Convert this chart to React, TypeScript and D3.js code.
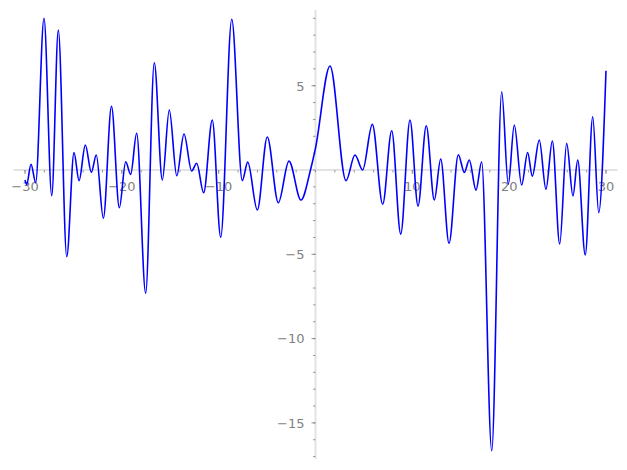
import React from "react";
import * as d3 from "d3";

const W = 627;
const H = 470;

// curve samples (extrema and a few intermediate points)
const xs = [
  -30.0, -29.83, -29.38, -28.9, -28.04, -27.24, -26.56, -25.69, -24.94, -24.42,
  -23.77, -23.15, -22.64, -21.91, -21.07, -20.26, -19.6, -19.09, -18.47, -17.54,
  -16.65, -15.82, -15.1, -14.33, -13.58, -12.79, -12.27, -11.55, -10.66, -9.79,
  -8.65, -7.56, -7.0, -6.01, -4.98, -3.84, -2.74, -1.5, -0.52, 0.0,
  1.5, 3.15, 4.08, 4.87, 5.87, 6.94, 7.87, 8.8, 9.76,
  10.59, 11.44, 12.27, 12.93, 13.79, 14.75, 15.37, 15.88, 16.58, 17.16,
  18.2, 19.23, 19.91, 20.53, 21.29, 21.91, 22.39, 23.11, 23.8, 24.46,
  25.22, 25.94, 26.59, 27.08, 27.86, 28.63, 29.25, 30.0,
];
const ys = [
  -0.59, -0.85, 0.34, -0.75, 9.0, -1.52, 8.3, -5.14, 1.03, -0.63,
  1.48, -0.14, 0.89, -2.86, 3.78, -2.24, 0.49, -0.26, 2.18, -7.31,
  6.36, -0.59, 3.56, -0.34, 2.14, -0.06, 0.4, -1.35, 2.97, -3.99,
  8.94, -0.63, 0.47, -2.37, 1.96, -1.94, 0.53, -1.78, 0.0, 1.3,
  6.17, -0.63, 0.89, 0.0, 2.71, -2.03, 2.33, -3.8, 2.97,
  -2.14, 2.63, -1.78, 0.65, -4.35, 0.91, -0.14, 0.59, -1.19, 0.49,
  -16.65, 4.64, -0.85, 2.67, -0.89, 1.04, -0.36, 1.78, -1.14, 1.72,
  -4.39, 1.58, -1.54, 0.59, -5.04, 3.16, -2.53, 5.89,
];

const xMajor = [-30, -20, -10, 10, 20, 30];
const xMajorLabels = ["\u221230", "\u221220", "\u221210", "10", "20", "30"];
const xMinor = d3.range(-30, 31, 2);
const yMajor = [5, -5, -10, -15];
const yMajorLabels = ["5", "\u22125", "\u221210", "\u221215"];
const yMinor = d3.range(-17, 10, 1);

export default function App() {
  const x = d3.scaleLinear().domain([-31.2, 31.2]).range([13.4, 617.6]);
  const y = d3.scaleLinear().domain([-17.16, 9.51]).range([459.3, 9.7]);
  const pts: [number, number][] = xs.map((v, i) => [v, ys[i]]);
  const line = d3
    .line<[number, number]>()
    .x((d) => x(d[0]))
    .y((d) => y(d[1]))
    .curve(d3.curveMonotoneX);

  const x0 = x(0);
  const y0 = y(0);
  const font = "DejaVu Sans, sans-serif";
  const tickColor = "#7f7f7f";
  const labelColor = "#808080";
  const axisColor = "#e3e3e3";

  return (
    <svg
      width={W}
      height={H}
      style={{ position: "absolute", left: 0, top: 0, background: "#fff" }}
    >
      <line x1={x(-31.2)} x2={x(31.2)} y1={y0} y2={y0} stroke={axisColor} strokeWidth={2} />
      <line x1={x0} x2={x0} y1={y(9.51)} y2={y(-17.16)} stroke={axisColor} strokeWidth={2} />
      {xMinor.map((t) => (
        <line key={"xm" + t} x1={x(t)} x2={x(t)} y1={y0} y2={y0 + 2.5} stroke={tickColor} strokeWidth={0.8} />
      ))}
      {xMajor.map((t, i) => (
        <g key={"xM" + t}>
          <line x1={x(t)} x2={x(t)} y1={y0} y2={y0 + 4} stroke={tickColor} strokeWidth={0.8} />
          <text
            x={x(t)}
            y={y0 + 21}
            textAnchor="middle"
            fontFamily={font}
            fontSize={13}
            fill={labelColor}
          >
            {xMajorLabels[i]}
          </text>
        </g>
      ))}
      {yMinor.map((t) => (
        <line key={"ym" + t} x1={x0} x2={x0 - 2.5} y1={y(t)} y2={y(t)} stroke={tickColor} strokeWidth={0.8} />
      ))}
      {yMajor.map((t, i) => (
        <g key={"yM" + t}>
          <line x1={x0} x2={x0 - 4} y1={y(t)} y2={y(t)} stroke={tickColor} strokeWidth={0.8} />
          <text
            x={x0 - 11}
            y={y(t) + 4.8}
            textAnchor="end"
            fontFamily={font}
            fontSize={13}
            fill={labelColor}
          >
            {yMajorLabels[i]}
          </text>
        </g>
      ))}
      <path d={line(pts) || ""} fill="none" stroke="#0000ff" strokeWidth={1.6} strokeLinejoin="round" />
    </svg>
  );
}
